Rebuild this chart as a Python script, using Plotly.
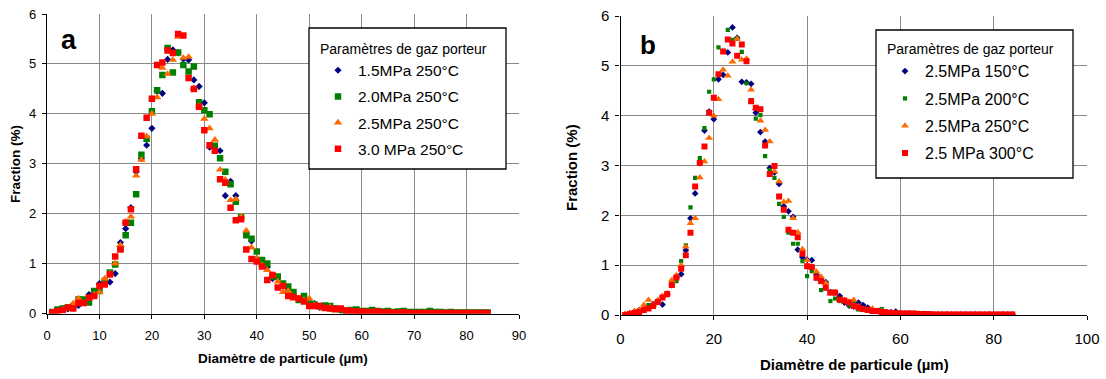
import plotly.graph_objects as go

# ---------------- data ----------------
diam_um = list(range(1, 85))

# Panel a : 250 °C, various pressures
a_15MPa_250C = [0.02, 0.05, 0.10, 0.09, 0.15, 0.16, 0.25, 0.38, 0.42, 0.60,
                0.64, 0.63, 0.80, 1.42, 1.70, 2.12, 2.84, 3.10, 3.37, 3.71,
                4.45, 4.41, 5.09, 5.28, 5.22, 5.10, 5.08, 4.68, 4.55, 4.22,
                3.33, 3.35, 3.26, 2.36, 2.65, 2.36, 1.92, 1.60, 1.45, 1.10,
                1.02, 0.93, 0.70, 0.70, 0.55, 0.45, 0.35, 0.30, 0.28, 0.20,
                0.20, 0.12, 0.12, 0.10, 0.10, 0.06, 0.05, 0.05, 0.04, 0.04,
                0.03, 0.03, 0.03, 0.02, 0.02, 0.02, 0.02, 0.02, 0.01, 0.01,
                0.01, 0.01, 0.01, 0.01, 0.01, 0.01, 0.01, 0.01, 0.01, 0.01,
                0.01, 0.01, 0.01, 0.01]
a_20MPa_250C = [0.03, 0.08, 0.10, 0.12, 0.15, 0.28, 0.28, 0.22, 0.45, 0.45,
                0.65, 0.82, 0.98, 1.30, 1.57, 1.82, 2.39, 3.18, 3.50, 4.05,
                4.47, 4.78, 5.32, 4.83, 5.23, 4.98, 4.85, 4.95, 4.23, 4.07,
                3.99, 3.36, 3.11, 2.84, 2.59, 2.24, 1.93, 1.57, 1.50, 1.24,
                1.07, 1.00, 0.74, 0.74, 0.60, 0.54, 0.43, 0.27, 0.35, 0.20,
                0.18, 0.15, 0.16, 0.15, 0.10, 0.08, 0.06, 0.07, 0.08, 0.05,
                0.05, 0.07, 0.05, 0.04, 0.05, 0.03, 0.04, 0.05, 0.03, 0.03,
                0.03, 0.03, 0.05, 0.03, 0.03, 0.02, 0.03, 0.02, 0.02, 0.02,
                0.02, 0.02, 0.02, 0.02]
p25MPa_250C = [0.02, 0.04, 0.08, 0.10, 0.20, 0.30, 0.20, 0.30, 0.38, 0.43,
               0.70, 0.80, 1.00, 1.37, 1.84, 1.94, 2.76, 3.08, 3.55, 4.00,
               4.33, 4.92, 4.80, 5.08, 5.54, 5.12, 5.14, 4.52, 4.15, 3.90,
               3.71, 3.48, 2.88, 2.68, 2.27, 2.29, 1.94, 1.66, 1.32, 1.10,
               0.97, 0.87, 0.77, 0.64, 0.43, 0.45, 0.30, 0.30, 0.27, 0.30,
               0.17, 0.12, 0.10, 0.13, 0.06, 0.08, 0.02, 0.05, 0.03, 0.03,
               0.02, 0.02, 0.03, 0.01, 0.00, 0.01, 0.00, 0.01, 0.00, 0.00,
               0.00, 0.01, 0.00, 0.00, 0.00, 0.00, 0.00, 0.00, 0.00, 0.00,
               0.00, 0.00, 0.00, 0.00]
a_30MPa_250C = [0.02, 0.05, 0.07, 0.12, 0.10, 0.21, 0.21, 0.32, 0.35, 0.55,
                0.58, 0.78, 1.14, 1.28, 1.82, 2.09, 2.89, 3.56, 3.92, 4.30,
                4.98, 5.03, 5.27, 5.22, 5.60, 5.57, 4.72, 4.50, 4.14, 3.67,
                3.37, 3.26, 2.69, 2.62, 2.12, 1.87, 1.89, 1.28, 1.09, 1.04,
                0.94, 0.67, 0.77, 0.52, 0.55, 0.35, 0.33, 0.30, 0.24, 0.15,
                0.15, 0.15, 0.11, 0.10, 0.09, 0.10, 0.06, 0.05, 0.04, 0.04,
                0.03, 0.03, 0.04, 0.02, 0.02, 0.02, 0.01, 0.02, 0.01, 0.01,
                0.01, 0.01, 0.01, 0.01, 0.01, 0.01, 0.01, 0.01, 0.01, 0.01,
                0.01, 0.01, 0.01, 0.01]

# Panel b : 2.5 MPa, various temperatures
b_25MPa_150C = [0.01, 0.03, 0.07, 0.10, 0.12, 0.16, 0.22, 0.28, 0.21, 0.42,
                0.60, 0.75, 0.82, 1.30, 1.94, 2.44, 3.05, 3.70, 4.08, 3.93,
                4.73, 4.82, 5.27, 5.77, 5.56, 4.68, 4.67, 4.64, 4.06, 3.67,
                3.48, 2.95, 2.86, 2.63, 2.18, 2.08, 1.97, 1.31, 1.16, 1.11,
                1.10, 0.81, 0.69, 0.66, 0.46, 0.45, 0.38, 0.25, 0.19, 0.17,
                0.25, 0.20, 0.15, 0.10, 0.08, 0.09, 0.06, 0.06, 0.07, 0.04,
                0.03, 0.03, 0.02, 0.02, 0.02, 0.01, 0.01, 0.01, 0.01, 0.01,
                0.01, 0.01, 0.01, 0.01, 0.01, 0.01, 0.01, 0.01, 0.01, 0.01,
                0.01, 0.01, 0.01, 0.01]
b_25MPa_200C = [0.01, 0.02, 0.05, 0.10, 0.12, 0.20, 0.20, 0.25, 0.35, 0.40,
                0.65, 0.68, 1.08, 1.40, 2.16, 2.75, 3.15, 3.75, 4.48, 4.73,
                5.37, 5.30, 5.72, 5.52, 5.55, 5.28, 4.65, 4.31, 3.94, 4.01,
                3.19, 2.91, 2.75, 2.23, 1.97, 1.65, 1.43, 1.43, 1.08, 0.78,
                0.88, 0.73, 0.50, 0.53, 0.28, 0.33, 0.28, 0.28, 0.19, 0.28,
                0.11, 0.10, 0.12, 0.08, 0.10, 0.12, 0.06, 0.05, 0.06, 0.05,
                0.04, 0.03, 0.03, 0.02, 0.02, 0.02, 0.02, 0.02, 0.01, 0.01,
                0.01, 0.01, 0.01, 0.01, 0.01, 0.01, 0.01, 0.01, 0.01, 0.01,
                0.01, 0.01, 0.01, 0.01]
b_25MPa_300C = [0.00, 0.02, 0.04, 0.06, 0.10, 0.13, 0.18, 0.26, 0.35, 0.42,
                0.60, 0.75, 0.93, 1.20, 1.65, 2.58, 3.05, 3.38, 4.06, 4.36,
                4.83, 5.29, 5.53, 5.45, 5.20, 5.43, 5.09, 4.29, 4.16, 4.13,
                3.40, 2.83, 2.99, 2.38, 2.11, 1.71, 1.65, 1.56, 1.23, 0.98,
                0.96, 0.75, 0.68, 0.55, 0.45, 0.45, 0.31, 0.29, 0.25, 0.18,
                0.15, 0.12, 0.10, 0.08, 0.08, 0.06, 0.05, 0.04, 0.04, 0.03,
                0.03, 0.03, 0.03, 0.02, 0.02, 0.02, 0.01, 0.01, 0.01, 0.01,
                0.01, 0.01, 0.01, 0.01, 0.01, 0.01, 0.01, 0.01, 0.01, 0.01,
                0.01, 0.01, 0.01, 0.01]

labels_a = ["1.5MPa 250°C", "2.0MPa 250°C", "2.5MPa 250°C", "3.0 MPa 250°C"]
labels_b = ["2.5MPa 150°C", "2.5MPa 200°C", "2.5MPa 250°C", "2.5 MPa 300°C"]
legend_title = "Paramètres de gaz porteur"
x_title = "Diamètre de particule (µm)"
y_title = "Fraction (%)"

# ---------------- styling ----------------
W, H = 1106, 379
FONT = "Liberation Sans, Arial, sans-serif"
NAVY, GREEN, ORANGE, RED = "#000080", "#008000", "#FF6A00", "#FF0000"

def px(x):
    return x / W

def py(y):
    return 1 - y / H

fig = go.Figure()

series_a = [
    (a_15MPa_250C, labels_a[0], "diamond", NAVY, 5.5),
    (a_20MPa_250C, labels_a[1], "square", GREEN, 6.5),
    (p25MPa_250C, labels_a[2], "triangle-up", ORANGE, 7.5),
    (a_30MPa_250C, labels_a[3], "square", RED, 6.5),
]
series_b = [
    (b_25MPa_150C, labels_b[0], "diamond", NAVY, 5.2),
    (b_25MPa_200C, labels_b[1], "square", GREEN, 4.2),
    (p25MPa_250C, labels_b[2], "triangle-up", ORANGE, 7),
    (b_25MPa_300C, labels_b[3], "square", RED, 6),
]

for i, (vals, name, sym, col, sz) in enumerate(series_a):
    fig.add_trace(go.Scatter(
        x=diam_um, y=vals, mode="markers", name=name,
        marker=dict(symbol=sym, color=col, size=sz, line=dict(width=0)),
        xaxis="x", yaxis="y", legend="legend", legendgroup=f"a{i}"))
for i, (vals, name, sym, col, sz) in enumerate(series_b):
    fig.add_trace(go.Scatter(
        x=diam_um, y=vals, mode="markers", name=name,
        marker=dict(symbol=sym, color=col, size=sz, line=dict(width=0)),
        xaxis="x2", yaxis="y2", legend="legend2", legendgroup=f"b{i}"))

axis_common = dict(showgrid=True, gridcolor="#8a8a8a", gridwidth=1.3,
                   showline=True, linecolor="black", linewidth=1.2,
                   zeroline=False, ticks="outside", ticklen=4,
                   tickcolor="black", tickwidth=1, mirror=False,
                   automargin=False)

fig.update_layout(
    width=W, height=H, margin=dict(l=0, r=0, t=0, b=0, autoexpand=False),
    paper_bgcolor="white", plot_bgcolor="white",
    font=dict(family=FONT, color="black"),
    showlegend=True, hovermode=False,
    xaxis=dict(domain=[px(47), px(519)], range=[0, 90], dtick=10, tick0=0,
               anchor="y", tickfont=dict(size=13), ticklabelstandoff=6,
               **axis_common),
    yaxis=dict(domain=[py(313.5), py(14)], range=[0, 6], dtick=1, tick0=0,
               anchor="x", tickfont=dict(size=13), ticklabelstandoff=3,
               **axis_common),
    xaxis2=dict(domain=[px(620.5), px(1087)], range=[0, 100], dtick=20, tick0=0,
                anchor="y2", tickfont=dict(size=15), ticklabelstandoff=6,
                **axis_common),
    yaxis2=dict(domain=[py(315), py(16)], range=[0, 6], dtick=1, tick0=0,
                anchor="x2", tickfont=dict(size=15), ticklabelstandoff=3,
                **axis_common),
    legend=dict(x=px(318), y=py(35.5), xanchor="left", yanchor="top",
                bgcolor="rgba(0,0,0,0)", borderwidth=0,
                font=dict(size=15.5, family=FONT, color="black"),
                title=dict(text=legend_title, font=dict(size=14, family=FONT), side="top"),
                tracegroupgap=3, traceorder="grouped", itemwidth=30),
    legend2=dict(x=px(885), y=py(36), xanchor="left", yanchor="top",
                 bgcolor="rgba(0,0,0,0)", borderwidth=0,
                 font=dict(size=16, family=FONT, color="black"),
                 title=dict(text=legend_title, font=dict(size=14, family=FONT), side="top"),
                 tracegroupgap=3.5, traceorder="grouped", itemwidth=30),
    shapes=[
        dict(type="rect", xref="paper", yref="paper",
             x0=px(309), x1=px(506), y0=py(169), y1=py(28),
             line=dict(color="black", width=1.3), fillcolor="white", layer="above"),
        dict(type="rect", xref="paper", yref="paper",
             x0=px(876), x1=px(1073), y0=py(178), y1=py(30),
             line=dict(color="black", width=1.3), fillcolor="white", layer="above"),
    ],
    annotations=[
        dict(text="<b>a</b>", x=px(69), y=py(40), xref="paper", yref="paper",
             showarrow=False, font=dict(size=27, family=FONT), xanchor="center", yanchor="middle"),
        dict(text="<b>b</b>", x=px(648), y=py(45), xref="paper", yref="paper",
             showarrow=False, font=dict(size=26, family=FONT), xanchor="center", yanchor="middle"),
        dict(text=f"<b>{x_title}</b>", x=px(283), y=py(358), xref="paper", yref="paper",
             showarrow=False, font=dict(size=13.5, family=FONT), xanchor="center", yanchor="middle"),
        dict(text=f"<b>{x_title}</b>", x=px(854), y=py(364), xref="paper", yref="paper",
             showarrow=False, font=dict(size=15, family=FONT), xanchor="center", yanchor="middle"),
        dict(text=f"<b>{y_title}</b>", x=px(15), y=py(164), xref="paper", yref="paper",
             showarrow=False, textangle=-90, font=dict(size=13.5, family=FONT),
             xanchor="center", yanchor="middle"),
        dict(text=f"<b>{y_title}</b>", x=px(571), y=py(168), xref="paper", yref="paper",
             showarrow=False, textangle=-90, font=dict(size=15, family=FONT),
             xanchor="center", yanchor="middle"),
    ],
)

# remove the default 8px page margin so the figure sits at the window's origin
fig.write_html("out.html", config={"displayModeBar": False},
               post_script="document.body.style.margin='0';")
